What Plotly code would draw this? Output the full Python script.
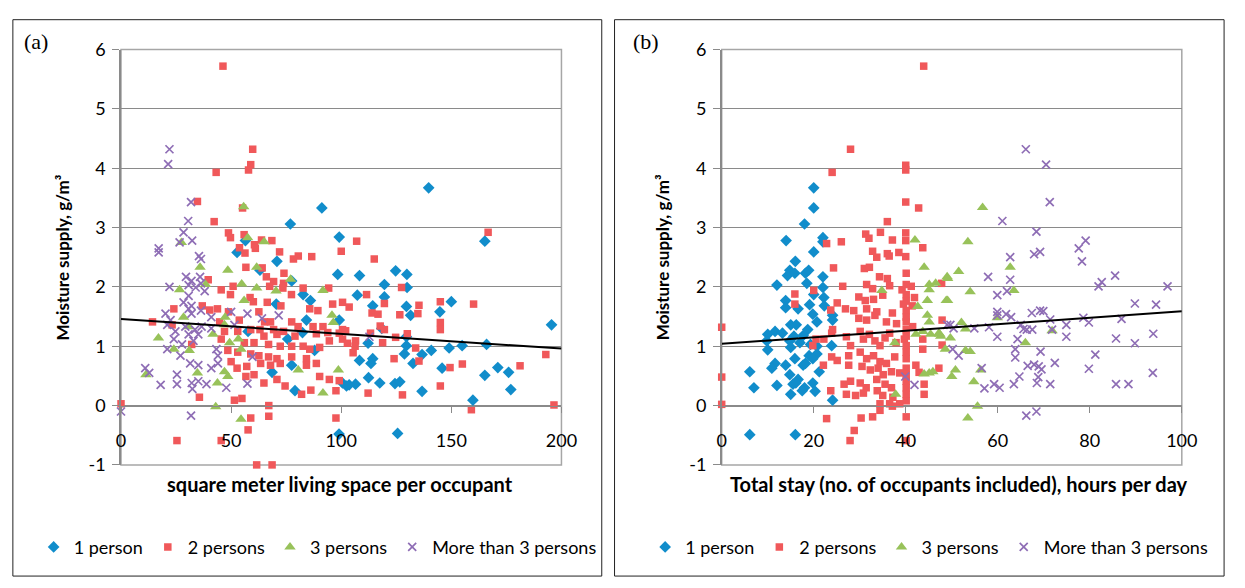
import plotly.graph_objects as go

# ---------------- Panel (a): living space per occupant ----------------
a_blue_x = [91.2, 76.9, 99.1, 56.5, 52.7, 139.7, 165.2, 70.8, 63.1, 98.4,
            77.5, 82.7, 86.0, 70.5, 84.2, 99.1, 57.7, 82.4, 75.7, 87.9,
            77.5, 68.6, 100.6, 102.4, 79.0, 99.0, 108.3, 124.7, 129.8, 119.6,
            129.9, 107.3, 119.6, 114.3, 129.6, 131.5, 144.8, 150.0, 118.4, 129.6,
            112.2, 129.6, 140.9, 136.7, 149.0, 154.9, 166.0, 195.5, 108.3, 114.3,
            113.5, 128.7, 132.6, 145.8, 171.1, 165.2, 176.0, 112.4, 117.5, 124.4,
            126.6, 106.5, 103.6, 136.7, 177.0, 159.8, 125.6]
a_blue_y = [3.33, 3.06, 2.84, 2.78, 2.58, 3.67, 2.77, 2.43, 2.28, 2.21,
            2.10, 1.87, 1.77, 1.71, 1.44, 1.44, 1.25, 1.23, 1.12, 0.93,
            0.68, 0.56, 0.38, 0.33, 0.25, -0.48, 2.19, 2.27, 2.21, 2.04,
            1.99, 1.86, 1.83, 1.68, 1.67, 1.52, 1.58, 1.75, 1.30, 1.16,
            1.05, 1.01, 0.93, 0.86, 0.97, 1.01, 1.03, 1.36, 0.76, 0.79,
            0.71, 0.87, 0.71, 0.63, 0.64, 0.51, 0.56, 0.47, 0.38, 0.37,
            0.40, 0.36, 0.35, 0.24, 0.27, 0.09, -0.47]

a_red_x = [46.3, 59.8, 58.9, 57.9, 43.2, 34.7, 55.2, 42.3, 48.8, 49.7,
           55.9, 63.8, 68.5, 60.6, 61.0, 53.8, 100.0, 56.3, 72.0, 80.5,
           86.6, 166.7, 107.0, 115.0, 78.3, 56.7, 64.1, 39.6, 66.0, 69.3,
           74.0, 73.8, 50.9, 45.5, 49.7, 67.5, 73.5, 77.4, 82.7, 94.3,
           58.6, 60.1, 66.4, 72.6, 85.7, 89.4, 96.1, 100.6, 24.0, 36.9,
           40.3, 43.8, 48.8, 53.7, 62.6, 65.2, 67.9, 14.3, 23.2, 44.8,
           77.5, 80.4, 87.2, 91.7, 100.6, 47.0, 53.0, 58.9, 63.1, 69.3,
           73.8, 64.9, 70.8, 79.0, 88.7, 93.9, 99.1, 45.5, 56.0, 60.4,
           67.0, 72.3, 77.5, 82.7, 85.7, 90.2, 94.6, 100.6, 32.1, 48.5,
           53.0, 58.9, 62.6, 67.0, 70.8, 77.5, 84.2, 50.0, 57.1, 63.4,
           67.9, 72.3, 84.2, 88.7, 52.7, 56.7, 60.4, 64.9, 70.8, 90.2,
           94.6, 74.5, 82.0, 86.2, 97.6, 35.6, 51.5, 54.9, 67.1, 67.1,
           58.9, 0.0, 25.4, 45.5, 57.7, 61.6, 68.6, 97.6, 127.4, 111.5,
           103.6, 119.6, 135.3, 145.0, 160.1, 114.0, 116.7, 126.6, 134.8, 145.0,
           145.0, 117.7, 119.6, 102.0, 113.3, 130.0, 124.7, 118.8, 102.8, 106.5,
           106.3, 105.4, 133.8, 124.0, 135.3, 149.4, 155.0, 181.2, 192.9, 99.1,
           112.2, 127.8, 145.0, 159.1, 196.6]
a_red_y = [5.72, 4.32, 4.06, 3.97, 3.93, 3.44, 3.33, 3.10, 2.91, 2.83,
           2.88, 2.79, 2.78, 2.71, 2.65, 2.66, 2.60, 2.57, 2.59, 2.52,
           2.51, 2.92, 2.77, 2.47, 2.47, 2.33, 2.32, 2.12, 2.17, 2.09,
           2.23, 2.06, 2.01, 1.95, 1.87, 2.01, 1.98, 1.87, 1.98, 1.98,
           1.82, 1.75, 1.74, 1.68, 1.63, 1.60, 1.71, 1.74, 1.63, 1.68,
           1.61, 1.63, 1.58, 1.44, 1.58, 1.41, 1.41, 1.41, 1.36, 1.41,
           1.41, 1.33, 1.33, 1.33, 1.28, 1.25, 1.25, 1.28, 1.28, 1.28,
           1.25, 1.17, 1.20, 1.17, 1.21, 1.23, 1.22, 1.12, 1.06, 1.06,
           1.03, 1.00, 1.00, 1.00, 0.95, 0.98, 1.09, 1.12, 1.03, 0.93,
           0.90, 0.87, 0.84, 0.82, 0.79, 0.82, 0.79, 0.74, 0.66, 0.71,
           0.68, 0.71, 0.68, 0.71, 0.63, 0.49, 0.52, 0.38, 0.44, 0.49,
           0.44, 0.33, 0.19, 0.26, 0.25, 0.14, 0.09, 0.12, 0.00, -0.18,
           -0.21, 0.03, -0.59, -0.59, -0.41, -1.00, -1.00, -0.21, 1.99, 1.87,
           1.66, 1.72, 1.69, 1.75, 1.71, 1.56, 1.54, 1.53, 1.55, 1.40,
           1.28, 1.34, 1.28, 1.26, 1.22, 1.21, 1.15, 1.06, 1.05, 1.09,
           1.00, 0.89, 0.97, 0.79, 0.75, 0.64, 0.70, 0.67, 0.86, 0.42,
           0.21, 0.18, 0.33, -0.07, 0.01]

a_green_x = [55.7, 57.5, 27.4, 65.0, 35.9, 48.5, 61.6, 26.6, 38.4, 54.8,
             61.6, 70.4, 77.0, 55.9, 91.7, 28.4, 47.3, 95.8, 96.4, 30.7,
             47.0, 17.0, 41.8, 49.3, 53.3, 24.0, 31.0, 54.5, 11.3, 34.7,
             47.0, 48.5, 43.8, 80.5, 98.7, 91.7, 43.0, 54.5]
a_green_y = [3.35, 2.83, 2.75, 2.76, 2.33, 2.28, 2.33, 1.95, 2.04, 2.05,
             1.98, 1.93, 2.13, 1.77, 1.94, 1.49, 1.49, 1.52, 1.40, 1.33,
             1.36, 1.14, 1.20, 1.06, 1.12, 0.95, 0.93, 0.95, 0.52, 0.55,
             0.57, 0.49, 0.38, 0.60, 0.60, 0.21, -0.02, -0.23]

a_purple_x = [22.0, 21.4, 31.8, 30.5, 28.4, 26.6, 32.3, 17.1, 17.1, 35.4,
              36.3, 29.5, 32.0, 35.9, 36.3, 22.0, 30.7, 33.9, 38.0, 30.7,
              28.4, 32.0, 30.7, 36.3, 20.2, 22.5, 32.0, 41.0, 50.0, 57.4,
              64.0, 71.6, 21.0, 29.2, 33.6, 36.6, 41.0, 51.5, 24.7, 30.7,
              35.1, 24.0, 27.7, 32.9, 21.0, 27.0, 43.3, 44.0, 59.7, 31.4,
              35.1, 41.0, 44.0, 11.0, 12.8, 25.4, 25.4, 18.0, 32.1, 35.1,
              38.8, 47.8, 57.4, 32.4, 0.0, 31.8, 112.8]
a_purple_y = [4.32, 4.07, 3.43, 3.11, 2.92, 2.75, 2.78, 2.65, 2.58, 2.52,
              2.47, 2.17, 2.10, 2.17, 2.06, 2.00, 2.03, 1.99, 1.93, 1.85,
              1.74, 1.68, 1.63, 1.60, 1.55, 1.44, 1.55, 1.49, 1.58, 1.55,
              1.47, 1.52, 1.36, 1.33, 1.28, 1.33, 1.30, 1.36, 1.25, 1.20,
              1.20, 1.12, 1.03, 1.09, 0.95, 0.84, 0.95, 0.84, 0.82, 0.71,
              0.68, 0.63, 0.71, 0.63, 0.55, 0.52, 0.36, 0.35, 0.38, 0.41,
              0.36, 0.30, 0.37, 0.28, -0.10, -0.17, 1.16]

# ---------------- Panel (b): total stay, hours per day ----------------
b_blue_x = [20.0, 20.0, 18.0, 14.0, 22.0, 22.0, 20.0, 16.0, 14.8, 14.3,
            15.9, 18.2, 18.9, 22.0, 18.5, 12.0, 22.0, 20.0, 22.2, 13.9,
            19.1, 22.3, 13.9, 16.6, 19.8, 24.1, 20.7, 15.0, 16.2, 18.7,
            24.1, 11.6, 13.2, 10.0, 15.7, 17.7, 9.8, 14.8, 19.3, 17.0,
            10.0, 15.0, 20.7, 23.9, 19.0, 20.7, 19.8, 15.9, 13.9, 11.6,
            10.9, 17.7, 18.2, 21.2, 6.1, 14.8, 16.6, 15.5, 16.1, 7.0,
            12.0, 18.0, 19.8, 20.3, 15.0, 17.5, 24.1, 6.1, 16.0]
b_blue_y = [3.67, 3.33, 3.06, 2.78, 2.83, 2.76, 2.59, 2.43, 2.28, 2.19,
            2.23, 2.23, 2.28, 2.17, 2.06, 2.03, 1.99, 1.87, 1.82, 1.77,
            1.70, 1.68, 1.65, 1.63, 1.54, 1.52, 1.41, 1.36, 1.36, 1.28,
            1.44, 1.25, 1.22, 1.20, 1.17, 1.18, 1.09, 1.09, 1.03, 1.06,
            0.94, 0.98, 1.00, 1.01, 0.84, 0.87, 0.79, 0.79, 0.68, 0.71,
            0.63, 0.68, 0.71, 0.57, 0.57, 0.52, 0.44, 0.36, 0.38, 0.30,
            0.34, 0.30, 0.38, 0.24, 0.19, 0.25, 0.09, -0.49, -0.49]

b_red_x = [43.9, 28.0, 40.0, 40.0, 24.0, 40.0, 42.8, 36.0, 22.8, 26.0,
           31.3, 32.0, 34.5, 37.1, 40.0, 40.0, 43.7, 32.8, 36.0, 38.5,
           40.0, 0.0, 0.0, 0.0, 24.3, 26.3, 31.0, 32.1, 33.7, 36.4,
           34.3, 36.0, 40.1, 15.9, 15.9, 20.0, 31.5, 32.8, 36.5, 39.2,
           41.2, 29.8, 31.2, 33.0, 35.0, 25.1, 26.9, 28.7, 31.5, 33.7,
           37.1, 39.5, 41.4, 23.7, 29.8, 31.5, 33.3, 35.8, 38.0, 40.1,
           41.5, 24.1, 22.2, 20.5, 23.9, 27.1, 28.0, 30.1, 30.8, 32.1,
           33.3, 34.4, 35.5, 36.5, 37.9, 39.7, 19.8, 23.9, 25.1, 27.6,
           22.1, 30.1, 31.5, 33.0, 34.4, 35.8, 37.6, 27.6, 30.5, 32.3,
           34.0, 35.1, 36.9, 38.7, 40.1, 40.1, 40.1, 26.6, 28.0, 30.1,
           31.4, 33.7, 35.5, 36.9, 23.7, 27.1, 29.1, 30.8, 33.8, 35.0,
           37.2, 38.7, 34.4, 34.4, 36.5, 37.1, 42.2, 44.0, 44.0, 42.9,
           22.8, 30.3, 32.8, 40.1, 28.8, 27.9, 40.1, 15.2, 44.0, 40.1,
           40.1, 40.1, 40.1, 40.1, 40.1, 40.1, 40.1, 40.1, 40.1, 40.1,
           40.1, 40.1, 41.9, 43.7, 43.7, 47.8, 47.9, 47.9, 47.2]
b_red_y = [5.72, 4.32, 4.05, 3.97, 3.93, 3.43, 3.33, 3.10, 2.73, 2.76,
           2.89, 2.82, 2.92, 2.79, 2.91, 2.78, 2.66, 2.60, 2.56, 2.58,
           2.51, 1.32, 0.48, 0.02, 2.32, 2.01, 2.31, 2.33, 2.50, 2.52,
           2.17, 2.14, 2.23, 1.88, 1.71, 1.94, 2.04, 1.97, 2.02, 1.95,
           2.01, 1.83, 1.77, 1.79, 1.86, 1.73, 1.63, 1.60, 1.63, 1.58,
           1.56, 1.71, 1.68, 1.61, 1.47, 1.44, 1.52, 1.41, 1.38, 1.41,
           1.33, 1.28, 1.12, 1.12, 1.22, 1.16, 1.01, 1.25, 1.12, 1.20,
           1.09, 1.01, 1.14, 1.22, 1.06, 1.12, 1.01, 0.82, 0.76, 0.84,
           0.68, 0.90, 0.79, 0.84, 0.74, 0.71, 0.82, 0.68, 0.66, 0.60,
           0.63, 0.52, 0.57, 0.55, 0.63, 0.41, 0.19, 0.36, 0.41, 0.38,
           0.30, 0.44, 0.36, 0.30, 0.25, 0.19, 0.17, 0.21, 0.25, 0.17,
           0.14, 0.03, 0.03, -0.08, 0.03, -0.01, 0.68, 0.36, 0.19, 0.56,
           -0.22, -0.21, -0.19, -0.19, -0.42, -0.59, -0.59, -1.01, -1.01, 2.04,
           1.87, 1.76, 1.60, 1.49, 1.28, 1.17, 1.01, 0.90, 0.79, 0.52,
           0.30, 0.08, 1.82, 1.12, 0.95, 2.06, 1.44, 1.02, 0.63]

b_green_x = [56.7, 53.5, 42.0, 44.0, 37.6, 37.8, 34.8, 45.1, 46.5, 45.1,
             42.6, 44.7, 44.7, 45.1, 42.2, 43.7, 45.4, 47.4, 44.0, 45.1,
             45.9, 49.0, 48.8, 48.6, 51.5, 49.1, 62.7, 63.5, 54.0, 49.1,
             59.9, 52.1, 53.0, 71.8, 47.2, 49.7, 47.6, 66.0, 53.0, 54.0,
             50.8, 50.0, 56.3, 54.8, 55.6, 53.5]
b_green_y = [3.34, 2.76, 2.79, 2.33, 1.06, 0.19, 1.94, 2.04, 2.06, 1.95,
             1.67, 1.77, 1.52, 1.41, 1.20, 1.25, 1.20, 1.20, 0.53, 0.55,
             0.57, 2.17, 1.77, 0.95, 2.26, 2.14, 2.33, 1.94, 1.92, 1.77,
             1.48, 1.40, 1.29, 1.26, 1.22, 1.14, 1.17, 1.06, 0.93, 0.91,
             0.60, 0.49, 0.60, 0.40, -0.01, -0.21]

b_purple_x = [66.1, 70.5, 71.3, 61.0, 68.4, 79.1, 77.6, 69.2, 67.9, 62.7,
              78.3, 57.9, 62.7, 81.9, 82.6, 85.5, 96.9, 59.9, 62.0, 89.8,
              94.4, 59.9, 59.9, 61.8, 62.9, 67.4, 69.2, 69.9, 71.4, 78.6,
              79.8, 86.9, 49.7, 50.4, 54.9, 58.1, 65.0, 65.6, 66.3, 67.5,
              71.8, 74.9, 74.9, 59.9, 64.3, 85.7, 89.8, 93.8, 50.2, 51.5,
              63.8, 63.8, 69.3, 81.2, 72.4, 56.5, 66.5, 67.9, 68.9, 69.5,
              79.8, 93.7, 64.7, 68.8, 68.5, 63.5, 71.4, 59.2, 60.4, 57.1,
              85.7, 88.4, 66.2, 68.4, 39.9, 41.9, 49.0]
b_purple_y = [4.32, 4.06, 3.43, 3.11, 2.93, 2.78, 2.65, 2.59, 2.55, 2.50,
              2.43, 2.17, 2.12, 2.01, 2.08, 2.19, 2.01, 1.86, 1.93, 1.72,
              1.70, 1.58, 1.52, 1.54, 1.49, 1.56, 1.60, 1.59, 1.45, 1.48,
              1.40, 1.46, 1.36, 1.30, 1.30, 1.32, 1.36, 1.29, 1.28, 1.28,
              1.28, 1.36, 1.16, 1.16, 1.12, 1.13, 1.05, 1.21, 0.95, 0.84,
              0.95, 0.81, 0.91, 0.86, 0.72, 0.63, 0.67, 0.69, 0.66, 0.61,
              0.62, 0.55, 0.49, 0.48, 0.38, 0.36, 0.36, 0.36, 0.30, 0.29,
              0.36, 0.36, -0.17, -0.10, 0.49, 0.35, 1.36]

# Linear trend lines (intercept, slope)
trend_a = (1.46, -0.0025)
trend_b = (1.04, 0.0055)

# Axis ticks
y_tick_vals = [-1, 0, 1, 2, 3, 4, 5, 6]
y_tick_text = ["-1", "0", "1", "2", "3", "4", "5", "6"]

series_names = ["1 person", "2 persons", "3 persons", "More than 3 persons"]
colors = ["#118DCB", "#F0585A", "#98C25A", "#8E6DB5"]
symbols = ["diamond", "square", "triangle-up", "x-thin-open"]
sizes = [9, 7.5, 10, 8]

W, H = 1245, 588
FONT = "Lato, Open Sans, sans-serif"
GRID = "#8A8A8A"


def px(x):
    return x / W


def py(y):
    return 1 - y / H


fig = go.Figure()

panels = [
    ("x", "y", [(a_blue_x, a_blue_y), (a_red_x, a_red_y), (a_green_x, a_green_y), (a_purple_x, a_purple_y)],
     trend_a, [0, 200], "legend"),
    ("x2", "y2", [(b_blue_x, b_blue_y), (b_red_x, b_red_y), (b_green_x, b_green_y), (b_purple_x, b_purple_y)],
     trend_b, [0, 100], "legend2"),
]

for xa, ya, data, trend, xr, leg in panels:
    for i, (xs, ys) in enumerate(data):
        marker = dict(color=colors[i], symbol=symbols[i], size=sizes[i])
        if symbols[i].startswith("x-thin"):
            marker["line"] = dict(color=colors[i], width=1.7)
        else:
            marker["line"] = dict(width=0)
        fig.add_trace(go.Scatter(x=xs, y=ys, mode="markers", name=series_names[i],
                                 marker=marker, xaxis=xa, yaxis=ya, legend=leg,
                                 cliponaxis=False))
    fig.add_trace(go.Scatter(x=xr, y=[trend[0] + trend[1] * v for v in xr], mode="lines",
                             line=dict(color="black", width=2), xaxis=xa, yaxis=ya,
                             showlegend=False, hoverinfo="skip"))

ydom = [py(470.5), py(39)]
x0_pos = ydom[0] + (0 - (-1)) / 7 * (ydom[1] - ydom[0])

common_x = dict(showgrid=False, zeroline=False, showline=True, linecolor=GRID, linewidth=1,
                ticks="outside", ticklen=6, tickcolor=GRID, anchor="free", position=x0_pos,
                tickfont=dict(family=FONT, size=18, color="black"), ticklabelstandoff=13)
common_y = dict(range=[-1, 6], tickvals=y_tick_vals, ticktext=y_tick_text, showgrid=True,
                gridcolor=GRID, gridwidth=1, zeroline=False,
                showline=True, linecolor=GRID, linewidth=1.5, ticks="outside", ticklen=7,
                tickcolor=GRID, domain=ydom, tickfont=dict(family=FONT, size=18, color="black"),
                ticklabelstandoff=3)

legend_common = dict(orientation="h", yanchor="middle", xanchor="center",
                     font=dict(family=FONT, size=18, color="black"), itemwidth=30,
                     bgcolor="rgba(0,0,0,0)", tracegroupgap=0)

fig.update_layout(
    width=W, height=H, margin=dict(l=0, r=0, t=0, b=0),
    paper_bgcolor="white", plot_bgcolor="white",
    xaxis=dict(domain=[px(118), px(566)], range=[0, 200], dtick=50, **common_x),
    xaxis2=dict(domain=[px(729), px(1197)], range=[0, 100], dtick=20, **common_x),
    yaxis=dict(anchor="x", **common_y),
    yaxis2=dict(anchor="x2", **common_y),
    legend=dict(x=px(318), y=py(556), **legend_common),
    legend2=dict(x=px(940), y=py(556), **legend_common),
)

shapes = []
# outer panel frames
for l, r in [(8, 607), (620, 1240)]:
    shapes.append(dict(type="rect", xref="paper", yref="paper", x0=px(l), x1=px(r),
                       y0=py(586), y1=py(8), line=dict(color="#222222", width=1)))
# plot-area borders (top/right)
for l, r in [(118, 566), (729, 1197)]:
    shapes.append(dict(type="rect", xref="paper", yref="paper", x0=px(l), x1=px(r),
                       y0=ydom[0], y1=ydom[1], line=dict(color="#A6A6A6", width=1.5), layer="below"))
fig.update_layout(shapes=shapes)

ann = []
for label, xc in [("(a)", 32), ("(b)", 652)]:
    ann.append(dict(text=label, x=px(xc), y=py(31), xref="paper", yref="paper", showarrow=False,
                    xanchor="center", yanchor="middle",
                    font=dict(family="Liberation Serif, Times New Roman, serif", size=22, color="black")))
for xc in [58, 669]:
    ann.append(dict(text="<b>Moisture supply, g/m³</b>", x=px(xc), y=py(255), xref="paper", yref="paper",
                    showarrow=False, textangle=-90, xanchor="center", yanchor="middle",
                    font=dict(family=FONT, size=17, color="black")))
ann.append(dict(text="<b>square meter living space per occupant</b>", x=px(341), y=py(490),
                xref="paper", yref="paper", showarrow=False, xanchor="center", yanchor="middle",
                font=dict(family=FONT, size=20, color="black")))
ann.append(dict(text="<b>Total stay (no. of occupants included), hours per day</b>", x=px(970), y=py(490),
                xref="paper", yref="paper", showarrow=False, xanchor="center", yanchor="middle",
                font=dict(family=FONT, size=20, color="black")))
fig.update_layout(annotations=ann)

fig.write_html("out.html")
